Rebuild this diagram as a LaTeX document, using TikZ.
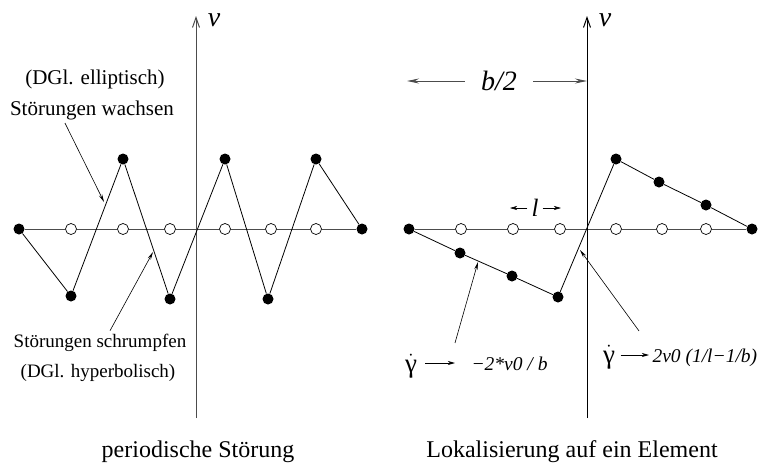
\documentclass[tikz,border=0pt]{standalone}
\usepackage{fontspec}
\setmainfont{Liberation Serif}
\usetikzlibrary{arrows.meta,calc}

\begin{document}
\begin{tikzpicture}[x=1pt, y=-1pt,
    every node/.style={font=\fontsize{21}{24}\selectfont},
    dot/.style={circle, fill, inner sep=0pt, minimum size=11pt},
    ring/.style={circle, draw, line width=0.7pt, inner sep=0pt, minimum size=11pt},
    axis/.style={black!70, line width=1pt},
    zig/.style={line width=0.8pt},
    note/.style={line width=0.6pt, -{Stealth[length=8pt,width=3.5pt,inset=3pt]}},
    dim/.style={line width=1pt, -{Stealth[length=12pt,width=5pt,inset=4pt]}},
    gam/.style={line width=0.8pt, -{Stealth[length=7pt,width=4pt,inset=2pt]}},
    small/.style={font=\fontsize{19}{22}\selectfont},
    big/.style={font=\fontsize{24}{28}\selectfont},
    var/.style={font=\fontsize{28}{32}\selectfont\itshape},
    res/.style={font=\fontsize{19.5}{22}\selectfont\itshape},
    gdot/.style={font=\fontsize{27}{30}\selectfont, inner sep=1pt}]
  \useasboundingbox (0,0) rectangle (763,464);

  % left: periodische Stoerung
  \coordinate (ltop) at (196,16);
  \coordinate (lbot) at (196,418);
  \node[dot] (a0) at (19,229) {};
  \foreach \n/\x in {1/71,2/123,3/170,4/225,5/271,6/316}
    \node[ring] (a\n) at (\x,229) {};
  \node[dot] (a7) at (362,229) {};
  \node[dot] (b1) at (71,296) {};
  \node[dot] (b2) at (123,159) {};
  \node[dot] (b3) at (170,299) {};
  \node[dot] (b4) at (225,159) {};
  \node[dot] (b5) at (268,299) {};
  \node[dot] (b6) at (316,159) {};
  \draw[axis] (a0) -- (a1) -- (a2) -- (a3) -- (a4) -- (a5) -- (a6) -- (a7);
  \draw[axis, -{Straight Barb[length=10pt,width=7pt]}] (lbot) -- (ltop);
  \node[var] (lv) at (214,20) {v};
  \draw[zig] (a0) -- (b1) -- (b2) -- (b3) -- (b4) -- (b5) -- (b6) -- (a7);

  \node (ellip) at (95,79) {(DGl. elliptisch)};
  \node (grow) at (92,110) {Störungen wachsen};
  \coordinate (growtip) at (104,202);
  \draw[note] ([xshift=-27pt]grow.south) -- (growtip);
  \node[small] (shrink) at (100,343) {Störungen schrumpfen};
  \node[small] (hyper) at (98,373) {(DGl. hyperbolisch)};
  \coordinate (shrinktip) at (153,252);
  \draw[note] ([xshift=10pt]shrink.north) -- (shrinktip);
  \node[big] (cap1) at (198,452) {periodische Störung};

  % right: Lokalisierung
  \coordinate (rtop) at (587,16);
  \coordinate (rbot) at (587,418);
  \node[dot] (c0) at (409,229) {};
  \foreach \n/\x in {1/461,2/513,3/560,4/616,5/662,6/706}
    \node[ring] (c\n) at (\x,229) {};
  \node[dot] (c7) at (752,229) {};
  \node[dot] (d1) at (460,253) {};
  \node[dot] (d2) at (512,276) {};
  \node[dot] (d3) at (558,297) {};
  \node[dot] (u1) at (616,159) {};
  \node[dot] (u2) at (659,182) {};
  \node[dot] (u3) at (706,205) {};
  \draw[axis] (c0) -- (c1) -- (c2) -- (c3) -- (c4) -- (c5) -- (c6) -- (c7);
  \draw[line width=1pt, -{Straight Barb[length=10pt,width=7pt]}] (rbot) -- (rtop);
  \node[var] (rv) at (605,20) {v};
  \draw[zig] (c0) -- (d1) -- (d2) -- (d3) -- (u1) -- (u2) -- (u3) -- (c7);

  \node[var, inner xsep=16pt] (bh) at (499,81) {b/2};
  \coordinate (bl) at (407,81);
  \coordinate (bm) at (587,81);
  \draw[dim, black!70] (bh) -- (bl);
  \draw[dim, black!70] (bh) -- (bm);

  \node[var, font=\fontsize{25}{28}\selectfont\itshape, inner xsep=4pt] (el) at (535,208) {l};
  \coordinate (elw) at (510,208);
  \coordinate (ele) at (561,208);
  \draw[gam, line width=0.6pt] (el) -- (elw);
  \draw[gam, line width=0.6pt] (el) -- (ele);

  \node[gdot, anchor=base] (g1) at (411,372) {$\dot{\hbox{γ}}$};
  \node[res, anchor=base west] (g1t) at (468,370) {−2*v0 / b};
  \draw[gam] ([shift={(7pt,9pt)}]g1.base east) -- ([shift={(-13pt,7pt)}]g1t.base west);
  \coordinate (n1tip) at (478,262);
  \draw[note] ($(g1t.north west)+(-13,-10)$) -- (n1tip);

  \node[gdot, anchor=base] (g2) at (609,363) {$\dot{\hbox{γ}}$};
  \node[res, anchor=base west] (g2t) at (649,362) {2v0 (1/l−1/b)};
  \draw[gam] ([shift={(4.5pt,8pt)}]g2.base east) -- ([shift={(0pt,7pt)}]g2t.base west);
  \coordinate (n2tip) at (580,250);
  \draw[note] ($(g2t.north west)+(-10,-14)$) -- (n2tip);
  \node[big] (cap2) at (572,452) {Lokalisierung auf ein Element};
\end{tikzpicture}
\end{document}
